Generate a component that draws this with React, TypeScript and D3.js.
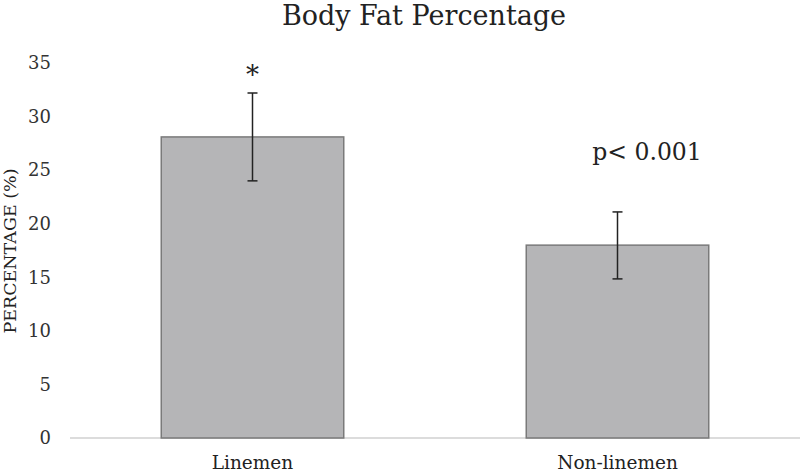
import React, { useEffect, useRef } from "react";
import * as d3 from "d3";

const categories = ["Linemen", "Non-linemen"];
const means = [28.1, 18.0];
const errUpper = [32.2, 21.1];
const errLower = [24.0, 14.85];
const yTicks = [0, 5, 10, 15, 20, 25, 30, 35];
const annotations = ["*", "p< 0.001"];

const W = 800;
const H = 473;
const FONT = "'DejaVu Serif', 'Liberation Serif', serif";

export default function App() {
  const svgRef = useRef<SVGSVGElement | null>(null);

  useEffect(() => {
    const svg = d3.select(svgRef.current);
    svg.selectAll("*").remove();

    const x = d3
      .scaleBand<string>()
      .domain(categories)
      .range([70, 800])
      .paddingInner(0.5)
      .paddingOuter(0.25);
    const y = d3.scaleLinear().domain([0, 35]).range([438, 63]);

    // baseline
    svg
      .append("line")
      .attr("x1", 70)
      .attr("x2", 800)
      .attr("y1", y(0))
      .attr("y2", y(0))
      .attr("stroke", "#d0d0d0")
      .attr("stroke-width", 1.5);

    // y tick labels
    svg
      .append("g")
      .selectAll("text")
      .data(yTicks)
      .join("text")
      .attr("x", 51)
      .attr("y", (d) => y(d))
      .attr("dy", "0.35em")
      .attr("text-anchor", "end")
      .attr("font-size", 18)
      .attr("fill", "#333")
      .text((d) => d);

    // bars
    svg
      .append("g")
      .selectAll("rect")
      .data(categories)
      .join("rect")
      .attr("x", (d) => x(d)!)
      .attr("width", x.bandwidth())
      .attr("y", (_d, i) => y(means[i]))
      .attr("height", (_d, i) => y(0) - y(means[i]))
      .attr("fill", "#b5b5b7")
      .attr("stroke", "#7a7a7a")
      .attr("stroke-width", 1.5);

    // error bars
    const eg = svg.append("g").attr("stroke", "#222").attr("stroke-width", 1.5);
    categories.forEach((c, i) => {
      const cx = x(c)! + x.bandwidth() / 2;
      eg.append("line")
        .attr("x1", cx)
        .attr("x2", cx)
        .attr("y1", y(errUpper[i]))
        .attr("y2", y(errLower[i]));
      [errUpper[i], errLower[i]].forEach((v) => {
        eg.append("line")
          .attr("x1", cx - 5)
          .attr("x2", cx + 5)
          .attr("y1", y(v))
          .attr("y2", y(v));
      });
    });

    // annotations
    const c0 = x(categories[0])! + x.bandwidth() / 2;
    svg
      .append("text")
      .attr("x", c0)
      .attr("y", 84)
      .attr("text-anchor", "middle")
      .attr("font-size", 26)
      .attr("fill", "#222")
      .text(annotations[0]);

    svg
      .append("text")
      .attr("x", 647)
      .attr("y", 160)
      .attr("text-anchor", "middle")
      .attr("font-size", 23.5)
      .attr("fill", "#222")
      .text(annotations[1]);

    // category labels
    svg
      .append("g")
      .selectAll("text")
      .data(categories)
      .join("text")
      .attr("x", (d) => x(d)! + x.bandwidth() / 2)
      .attr("y", 469)
      .attr("text-anchor", "middle")
      .attr("font-size", 18.5)
      .attr("fill", "#222")
      .text((d) => d);

    // title
    svg
      .append("text")
      .attr("x", 424)
      .attr("y", 25)
      .attr("text-anchor", "middle")
      .attr("font-size", 27)
      .attr("fill", "#222")
      .text("Body Fat Percentage");

    // y axis title
    svg
      .append("text")
      .attr("transform", `translate(16,${251}) rotate(-90)`)
      .attr("text-anchor", "middle")
      .attr("font-size", 17.5)
      .attr("fill", "#222")
      .text("PERCENTAGE (%)");
  }, []);

  return (
    <svg
      ref={svgRef}
      width={W}
      height={H}
      style={{
        position: "absolute",
        left: 0,
        top: 0,
        background: "#fff",
        fontFamily: FONT,
      }}
    />
  );
}
